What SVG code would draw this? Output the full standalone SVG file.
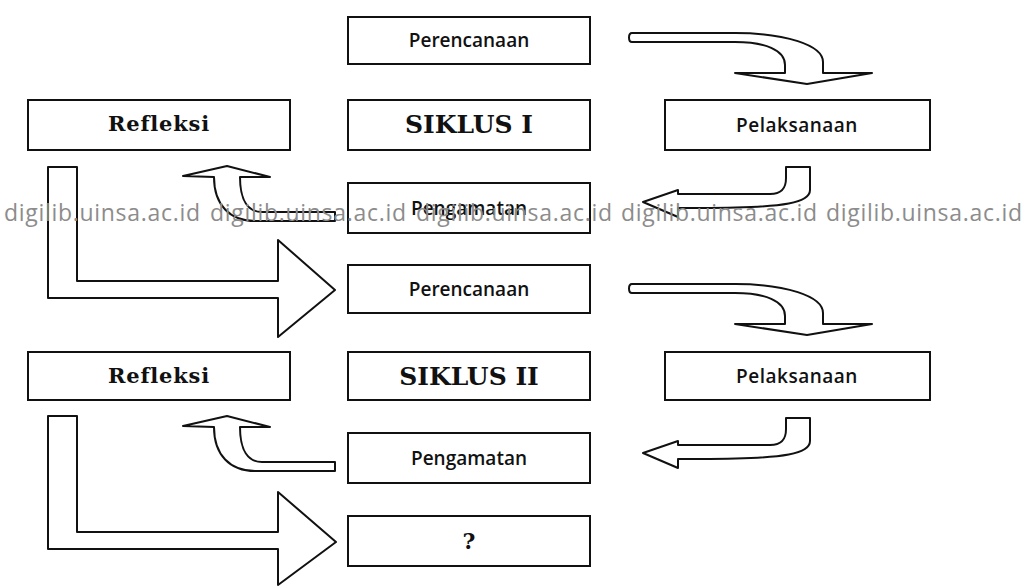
<svg xmlns="http://www.w3.org/2000/svg" width="1023" height="587" viewBox="0 0 1023 587">
<style>
.box{fill:none;stroke:#111;stroke-width:2}
.arrow{fill:#fff;stroke:#111;stroke-width:2;stroke-linejoin:round}
.sans{font-family:"Open Sans","Noto Sans",sans-serif;font-weight:600;font-size:19px;fill:#111;text-anchor:middle}
.serif{font-family:"DejaVu Serif","Liberation Serif",serif;font-weight:bold;fill:#111;text-anchor:middle}
.wm{font-family:"Open Sans","Noto Sans",sans-serif;font-size:23px;fill:#8c8c8c}
</style>
<rect width="1023" height="587" fill="#fff"/>
<g id="connectors">
<path class="arrow" d="M48,167 L77,167 L77,281 L278,281 L278,240 L335,290 L278,337 L278,298 L48,298 Z"/>
<path class="arrow" d="M48,416 L77,416 L77,532 L278,532 L278,492 L336,542 L278,585 L278,549 L48,549 Z"/>
<path class="arrow" d="M632,33 L735,33 C785,33 823,45 823,62 L823,73 L872,73 L807,84 L735,73 L785,73 L785,65 C785,50 765,42 735,42 L632,42 C628,42 628,33 632,33 Z"/>
<path class="arrow" transform="translate(0,251)" d="M632,33 L735,33 C785,33 823,45 823,62 L823,73 L872,73 L807,84 L735,73 L785,73 L785,65 C785,50 765,42 735,42 L632,42 C628,42 628,33 632,33 Z"/>
<path class="arrow" d="M335,212 L262,212 C248,212 240,200 240,177 L270,177 L227,166 L183,176 L214,177 C214,205 230,221 255,221 L335,221 Z"/>
<path class="arrow" transform="translate(0,250)" d="M335,212 L262,212 C248,212 240,200 240,177 L270,177 L227,166 L183,176 L214,177 C214,205 230,221 255,221 L335,221 Z"/>
<path class="arrow" d="M643,202 L678,190 L678,194 L770,194 C782,194 786,188 786,178 L786,167 L810,167 L810,190 C810,202 790,208 700,208 L678,208 L678,217 Z"/>
<path class="arrow" transform="translate(0,251)" d="M643,202 L678,190 L678,194 L770,194 C782,194 786,188 786,178 L786,167 L810,167 L810,190 C810,202 790,208 700,208 L678,208 L678,217 Z"/>
</g>
<g id="perencanaan1"><rect class="box" x="348" y="17" width="242" height="47"/><text class="sans" x="469" y="47">Perencanaan</text></g>
<g id="refleksi1"><rect class="box" x="28" y="100" width="262" height="50"/><text class="serif" x="159" y="131" font-size="21" letter-spacing="0.8">Refleksi</text></g>
<g id="siklus1"><rect class="box" x="348" y="100" width="242" height="50"/><text class="serif" x="469" y="133" font-size="25">SIKLUS I</text></g>
<g id="pelaksanaan1"><rect class="box" x="665" y="100" width="265" height="50"/><text class="sans" x="797" y="132" letter-spacing="0.5">Pelaksanaan</text></g>
<g id="pengamatan1"><rect class="box" x="348" y="183" width="242" height="50"/><text class="sans" x="469" y="215">Pengamatan</text></g>
<g id="perencanaan2"><rect class="box" x="348" y="265" width="242" height="48"/><text class="sans" x="469" y="296">Perencanaan</text></g>
<g id="refleksi2"><rect class="box" x="28" y="352" width="262" height="48"/><text class="serif" x="159" y="383" font-size="21" letter-spacing="0.8">Refleksi</text></g>
<g id="siklus2"><rect class="box" x="348" y="352" width="242" height="48"/><text class="serif" x="469" y="385" font-size="25">SIKLUS II</text></g>
<g id="pelaksanaan2"><rect class="box" x="665" y="352" width="265" height="48"/><text class="sans" x="797" y="383" letter-spacing="0.5">Pelaksanaan</text></g>
<g id="pengamatan2"><rect class="box" x="348" y="433" width="242" height="50"/><text class="sans" x="469" y="465" font-size="18">Pengamatan</text></g>
<g id="next"><rect class="box" x="348" y="516" width="242" height="50"/><text class="serif" x="469" y="549" font-size="22">?</text></g>
<g id="watermark">
<text class="wm" x="4" y="221" textLength="196">digilib.uinsa.ac.id</text>
<text class="wm" x="210" y="221" textLength="196">digilib.uinsa.ac.id</text>
<text class="wm" x="416" y="221" textLength="196">digilib.uinsa.ac.id</text>
<text class="wm" x="621" y="221" textLength="196">digilib.uinsa.ac.id</text>
<text class="wm" x="826" y="221" textLength="196">digilib.uinsa.ac.id</text>
</g>
</svg>
